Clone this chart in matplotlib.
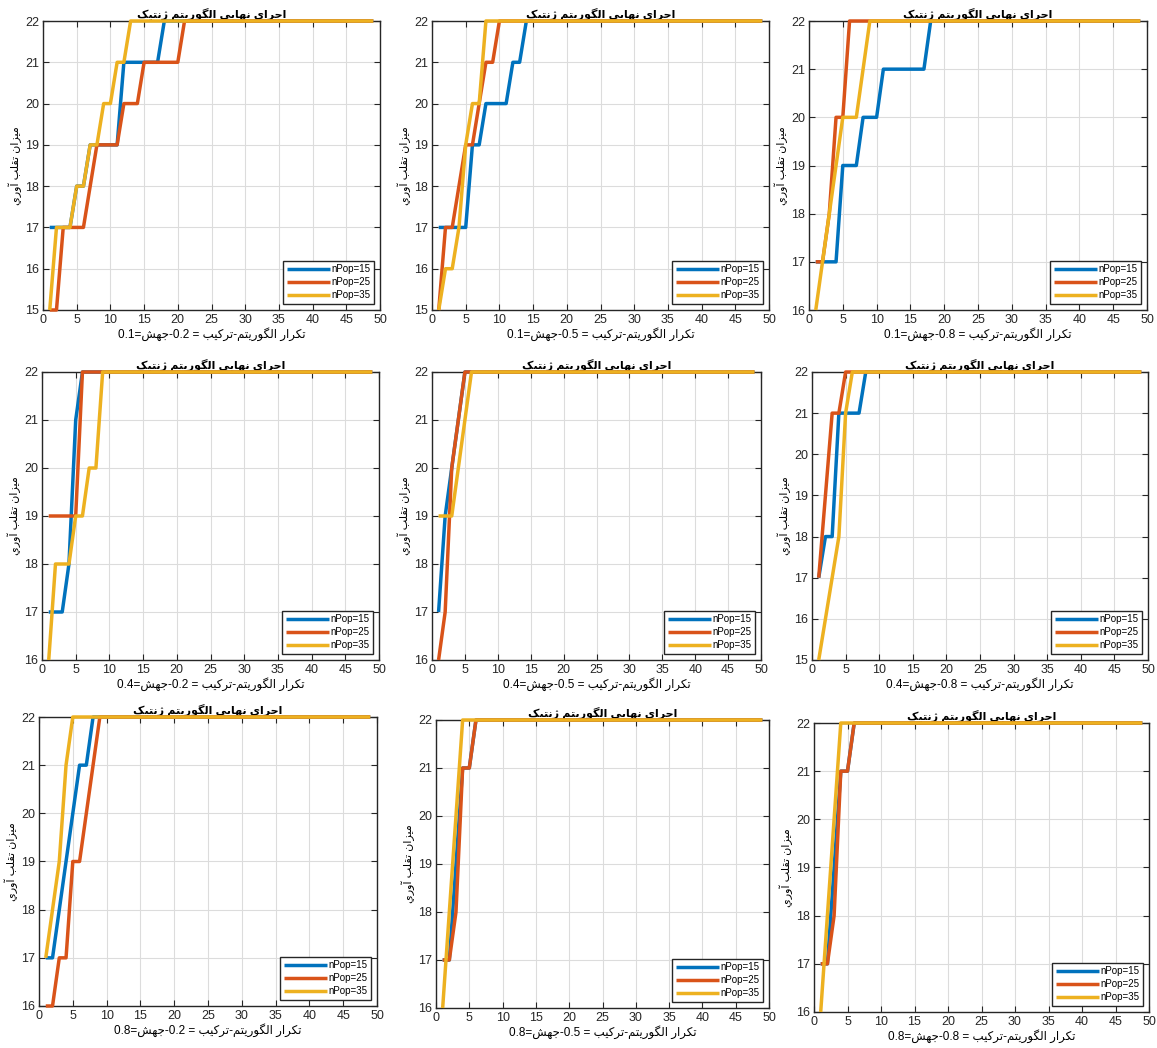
import numpy as np
import matplotlib
matplotlib.use("Agg")
import matplotlib.pyplot as plt

plt.rcParams['font.family'] = ['Liberation Sans', 'DejaVu Sans']

# joining forms: isolated, final, (initial, medial) for the letters used here
FORMS = {
    'ا': (0xFE8D, 0xFE8E), 'آ': (0xFE81, 0xFE82),
    'ر': (0xFEAD, 0xFEAE), 'ز': (0xFEAF, 0xFEB0),
    'ژ': (0xFB8A, 0xFB8B), 'و': (0xFEED, 0xFEEE),
    'ب': (0xFE8F, 0xFE90, 0xFE91, 0xFE92), 'ت': (0xFE95, 0xFE96, 0xFE97, 0xFE98),
    'ج': (0xFE9D, 0xFE9E, 0xFE9F, 0xFEA0), 'ش': (0xFEB5, 0xFEB6, 0xFEB7, 0xFEB8),
    'ق': (0xFED5, 0xFED6, 0xFED7, 0xFED8), 'ل': (0xFEDD, 0xFEDE, 0xFEDF, 0xFEE0),
    'م': (0xFEE1, 0xFEE2, 0xFEE3, 0xFEE4), 'ن': (0xFEE5, 0xFEE6, 0xFEE7, 0xFEE8),
    'ه': (0xFEE9, 0xFEEA, 0xFEEB, 0xFEEC), 'ي': (0xFEF1, 0xFEF2, 0xFEF3, 0xFEF4),
    'ک': (0xFB8E, 0xFB8F, 0xFB90, 0xFB91), 'گ': (0xFB92, 0xFB93, 0xFB94, 0xFB95),
}


def shape(text):
    # minimal arabic shaping + reversal for right-to-left display
    out = []
    for i, ch in enumerate(text):
        f = FORMS.get(ch)
        if f is None:
            out.append(ch)
            continue
        prev = text[i - 1] if i > 0 else ''
        nxt = text[i + 1] if i + 1 < len(text) else ''
        jp = prev in FORMS and len(FORMS[prev]) == 4
        jn = nxt in FORMS and len(f) == 4
        if jp and jn:
            out.append(chr(f[3]))
        elif jp:
            out.append(chr(f[1]))
        elif jn:
            out.append(chr(f[2]))
        else:
            out.append(chr(f[0]))
    return ''.join(reversed(out))


title_txt = shape('اجراي نهايي الگوريتم ژنتيک')
ylabel_txt = shape('ميزان تقلب آوري')

crossover = ['0.2', '0.5', '0.8']
mutation = ['0.1', '0.4', '0.8']
labels = ['nPop=15', 'nPop=25', 'nPop=35']
colors = ['#0072BD', '#D95319', '#EDB120']

iters = np.arange(1, 50)
final_value = 22  # every run stays at 22 once it gets there

# values until each run reaches 22 (rows: mutation, cols: crossover)
pop15 = [
    [[17, 17, 17, 17, 18, 18, 19, 19, 19, 19, 19, 21, 21, 21, 21, 21, 21, 22],
     [17, 17, 17, 17, 17, 19, 19, 20, 20, 20, 20, 21, 21, 22],
     [17, 17, 17, 17, 19, 19, 19, 20, 20, 20, 21, 21, 21, 21, 21, 21, 21, 22]],
    [[17, 17, 17, 18, 21, 22],
     [17, 19, 20, 21, 22],
     [17, 18, 18, 21, 21, 21, 21, 22]],
    [[17, 17, 18, 19, 20, 21, 21, 22],
     [17, 17, 19, 21, 21, 22],
     [17, 17, 19, 21, 21, 22]],
]
pop25 = [
    [[15, 15, 17, 17, 17, 17, 18, 19, 19, 19, 19, 20, 20, 20, 21, 21, 21, 21, 21, 21, 22],
     [15, 17, 17, 18, 19, 19, 20, 21, 21, 22],
     [17, 17, 18, 20, 20, 22]],
    [[19, 19, 19, 19, 19, 22],
     [16, 17, 20, 21, 22],
     [17, 19, 21, 21, 22]],
    [[16, 16, 17, 17, 19, 19, 20, 21, 22],
     [17, 17, 18, 21, 21, 22],
     [17, 17, 18, 21, 21, 22]],
]
pop35 = [
    [[15, 17, 17, 17, 18, 18, 19, 19, 20, 20, 21, 21, 22],
     [15, 16, 16, 17, 19, 20, 20, 22],
     [16, 17, 18, 19, 20, 20, 20, 21, 22]],
    [[16, 18, 18, 18, 19, 19, 20, 20, 22],
     [19, 19, 19, 20, 21, 22],
     [15, 16, 17, 18, 21, 22]],
    [[17, 18, 19, 21, 22],
     [16, 18, 20, 22],
     [16, 18, 20, 22]],
]
ymins = [[15, 15, 16], [16, 16, 15], [16, 16, 16]]

# axes boxes in pixels: left, top, right, bottom
boxes = [
    [(43, 21, 380, 310), (432, 21, 769, 310), (809, 21, 1147, 310)],
    [(42, 372, 379, 660), (432, 372, 761, 660), (812, 372, 1148, 660)],
    [(39, 717, 377, 1006), (436, 720, 769, 1008), (814, 723, 1149, 1012)],
]

W, H = 1157, 1048
fig = plt.figure(figsize=(W / 100, H / 100), dpi=100)

for r in range(3):
    for c in range(3):
        l, t, rr, b = boxes[r][c]
        ax = fig.add_axes([l / W, 1 - b / H, (rr - l) / W, (b - t) / H])
        for k, series in enumerate([pop15, pop25, pop35]):
            head = series[r][c]
            vals = head + [final_value] * (len(iters) - len(head))
            ax.plot(iters, vals, color=colors[k], lw=2.5, label=labels[k],
                    clip_on=False, solid_capstyle='butt', zorder=3 + k)
        ax.set_xlim(0, 50)
        ax.set_ylim(ymins[r][c], 22)
        ax.set_xticks(np.arange(0, 51, 5))
        ax.set_yticks(np.arange(ymins[r][c], 23, 1))
        ax.grid(True, color='#dcdcdc', lw=0.8)
        ax.set_axisbelow(True)
        ax.tick_params(direction='in', top=True, right=True, labelsize=9,
                       colors='#262626', length=4, pad=3)
        for sp in ax.spines.values():
            sp.set_color('#262626')
            sp.set_linewidth(1.0)
            sp.set_zorder(2)
        ax.set_title(title_txt, fontsize=8, fontweight='bold', pad=3)
        ax.set_ylabel(ylabel_txt, fontsize=8, labelpad=2)
        xl = mutation[r] + '=' + shape('جهش') + '-' + crossover[c] + ' = ' + \
            shape('ترکيب') + '-' + shape('الگوريتم') + ' ' + shape('تکرار')
        ax.set_xlabel(xl, fontsize=8.5, labelpad=1)
        leg = ax.legend(loc='lower right', fontsize=7, handlelength=4.5,
                        handletextpad=0.1, borderpad=0.4, labelspacing=0.3,
                        fancybox=False, framealpha=1, borderaxespad=0.6)
        leg.get_frame().set_edgecolor('#262626')
        leg.get_frame().set_linewidth(1.0)
        leg.set_zorder(10)

plt.savefig('out.png', dpi=100)
